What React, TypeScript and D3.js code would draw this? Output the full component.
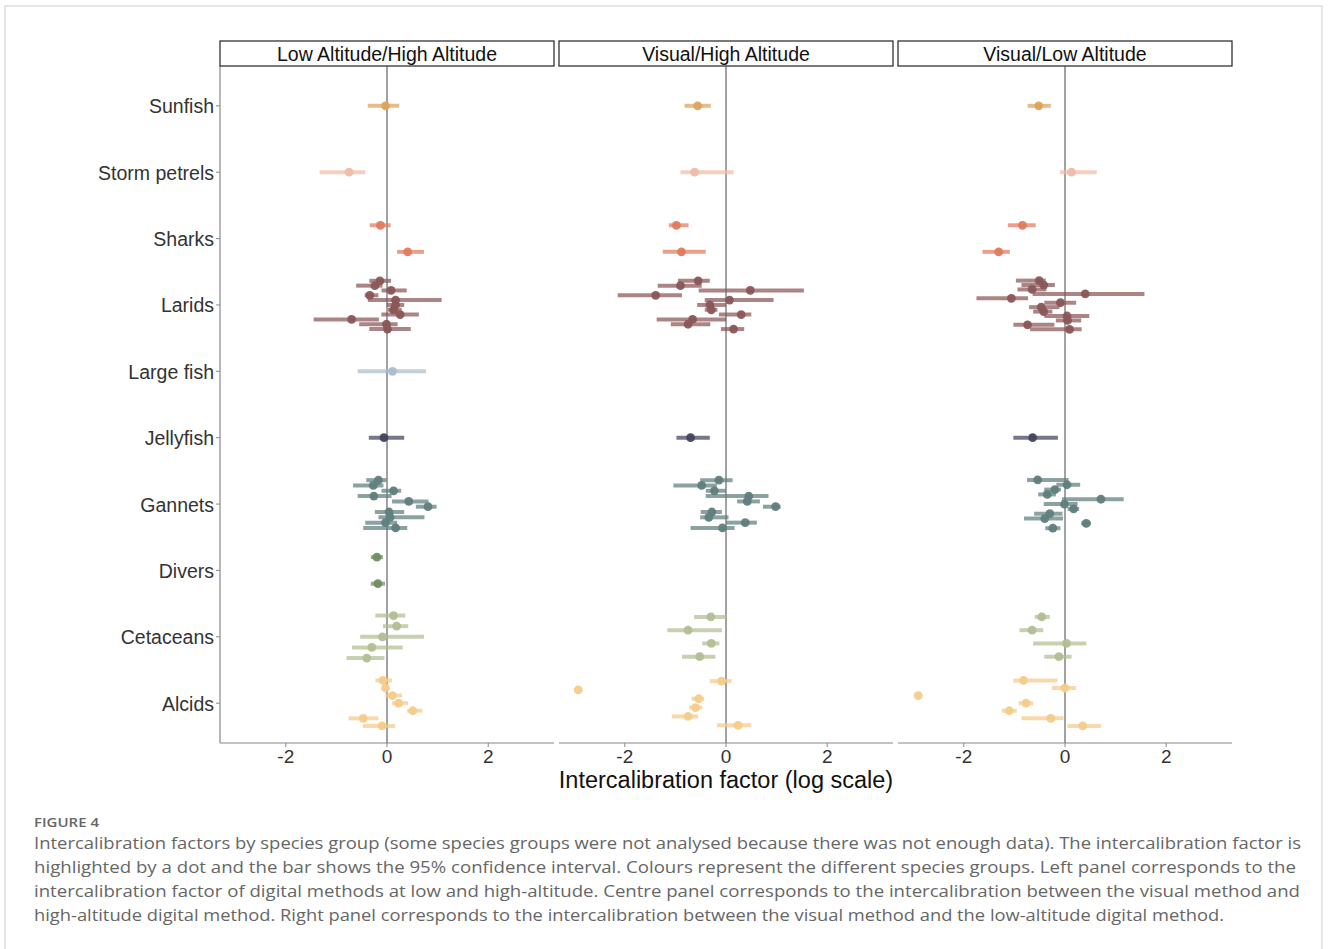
import * as d3 from 'd3';

// species groups, top to bottom
const groups = [
  'Sunfish',
  'Storm petrels',
  'Sharks',
  'Larids',
  'Large fish',
  'Jellyfish',
  'Gannets',
  'Divers',
  'Cetaceans',
  'Alcids',
];

const groupColors = [
  '#dca45a',
  '#eebca6',
  '#e27a5e',
  '#8a5658',
  '#a9bccf',
  '#42435e',
  '#607e7d',
  '#6f8d62',
  '#b3be94',
  '#f5cb8a',
];

const panelTitles = ['Low Altitude/High Altitude', 'Visual/High Altitude', 'Visual/Low Altitude'];

const xTicks = [-2, 0, 2];

// [estimate, lower 95%, upper 95%] per species, top to bottom within group
const lowHigh: Record<string, number[][]> = {
  Sunfish: [[-0.03, -0.38, 0.24]],
  'Storm petrels': [[-0.75, -1.33, -0.43]],
  Sharks: [[-0.13, -0.34, 0.07], [0.41, 0.2, 0.73]],
  Larids: [
    [-0.14, -0.35, 0.08], [-0.24, -0.61, -0.09], [0.08, -0.11, 0.39], [-0.34, -0.44, -0.17],
    [0.17, -0.38, 1.08], [0.17, -0.01, 0.34], [0.13, 0.02, 0.29], [0.26, -0.11, 0.63],
    [-0.7, -1.45, -0.16], [-0.01, -0.55, 0.21], [0.01, -0.35, 0.47],
  ],
  'Large fish': [[0.11, -0.58, 0.77]],
  Jellyfish: [[-0.06, -0.36, 0.34]],
  Gannets: [
    [-0.17, -0.41, -0.01], [-0.27, -0.67, -0.07], [0.13, -0.11, 0.28], [-0.26, -0.58, 0.09],
    [0.43, 0.1, 0.82], [0.81, 0.57, 0.98], [0.04, -0.24, 0.34], [0.06, -0.17, 0.74],
    [-0.03, -0.43, 0.2], [0.17, -0.47, 0.4],
  ],
  Divers: [[-0.2, -0.32, -0.08], [-0.18, -0.32, -0.04]],
  Cetaceans: [
    [0.13, -0.23, 0.36], [0.19, -0.08, 0.42], [-0.09, -0.53, 0.73], [-0.3, -0.69, 0.31],
    [-0.4, -0.8, -0.05],
  ],
  Alcids: [
    [-0.08, -0.23, 0.1], [-0.03, -0.08, 0.02], [0.11, -0.03, 0.3], [0.23, 0.1, 0.42],
    [0.51, 0.4, 0.7], [-0.47, -0.76, -0.17], [-0.1, -0.48, 0.16],
  ],
};

const visualHigh: Record<string, number[][]> = {
  Sunfish: [[-0.56, -0.82, -0.3]],
  'Storm petrels': [[-0.62, -0.9, 0.15]],
  Sharks: [[-0.98, -1.13, -0.74], [-0.88, -1.25, -0.4]],
  Larids: [
    [-0.55, -0.95, -0.32], [-0.9, -1.35, -0.48], [0.48, -0.54, 1.54], [-1.39, -2.14, -0.87],
    [0.07, -0.42, 0.94], [-0.32, -0.57, 0.0], [-0.29, -0.42, -0.17], [0.3, -0.14, 0.5],
    [-0.66, -1.37, 0.0], [-0.75, -1.09, -0.31], [0.15, -0.1, 0.36],
  ],
  Jellyfish: [[-0.7, -0.98, -0.32]],
  Gannets: [
    [-0.14, -0.51, 0.13], [-0.48, -1.04, -0.18], [-0.23, -0.4, 0.0], [0.45, -0.4, 0.84],
    [0.42, 0.22, 0.67], [0.98, 0.73, 1.08], [-0.28, -0.5, -0.08], [-0.34, -0.51, 0.05],
    [0.38, 0.0, 0.61], [-0.07, -0.7, 0.17],
  ],
  Cetaceans: [
    [-0.3, -0.63, 0.01], [-0.75, -1.16, -0.08], [-0.29, -0.47, -0.13], [-0.52, -0.87, -0.21],
  ],
  Alcids: [
    [-0.09, -0.32, 0.11], [-2.92, -2.92, -2.92], [-0.54, -0.68, -0.43], [-0.6, -0.73, -0.47],
    [-0.75, -1.07, -0.55], [0.24, -0.18, 0.5],
  ],
};

const visualLow: Record<string, number[][]> = {
  Sunfish: [[-0.52, -0.74, -0.28]],
  'Storm petrels': [[0.13, -0.1, 0.63]],
  Sharks: [[-0.84, -1.13, -0.58], [-1.31, -1.63, -1.09]],
  Larids: [
    [-0.51, -0.97, -0.38], [-0.42, -0.86, -0.2], [-0.65, -0.94, -0.37], [0.4, -0.64, 1.57],
    [-1.06, -1.75, -0.73], [-0.09, -0.41, 0.22], [-0.47, -0.71, -0.11], [-0.42, -0.63, -0.25],
    [0.04, -0.41, 0.48], [0.05, -0.18, 0.32], [-0.74, -1.02, -0.21], [0.09, -0.69, 0.33],
  ],
  Jellyfish: [[-0.64, -1.02, -0.14]],
  Gannets: [
    [-0.54, -0.75, 0.07], [0.04, -0.17, 0.3], [-0.2, -0.41, -0.08], [-0.35, -0.53, -0.18],
    [0.71, -0.06, 1.16], [-0.01, -0.42, 0.25], [0.17, 0.05, 0.28], [-0.3, -0.61, -0.05],
    [-0.4, -0.81, -0.04], [0.42, 0.32, 0.51], [-0.24, -0.39, -0.09],
  ],
  Cetaceans: [
    [-0.46, -0.6, -0.3], [-0.65, -0.9, -0.43], [0.03, -0.63, 0.42], [-0.12, -0.41, 0.13],
  ],
  Alcids: [
    [-0.82, -1.02, -0.15], [0.0, -0.26, 0.22], [-2.9, -2.9, -2.9], [-0.77, -0.92, -0.63],
    [-1.1, -1.25, -0.95], [-0.28, -0.86, -0.03], [0.35, 0.05, 0.71],
  ],
};

const panelData = [lowHigh, visualHigh, visualLow];

const captionLines = [
  'Intercalibration factors by species group (some species groups were not analysed because there was not enough data). The intercalibration factor is',
  'highlighted by a dot and the bar shows the 95% confidence interval. Colours represent the different species groups. Left panel corresponds to the',
  'intercalibration factor of digital methods at low and high-altitude. Centre panel corresponds to the intercalibration between the visual method and',
  'high-altitude digital method. Right panel corresponds to the intercalibration between the visual method and the low-altitude digital method.',
];
const captionWidths = [1267, 1262, 1266, 1190];

const W = 1328;
const H = 949;
const font = '"Liberation Sans", Arial, sans-serif';

function Panel({ index, left, right, top, bottom, y }: any) {
  const x = d3.scaleLinear().domain([-3.3, 3.3]).range([left, right]);
  const data = panelData[index];
  const dodge = y.step() * 0.8;

  return (
    <g>
      {/* strip */}
      <rect x={left} y={41} width={right - left} height={top - 41} fill="white" stroke="#222" strokeWidth={1.2} />
      <text x={(left + right) / 2} y={61} textAnchor="middle" fontFamily={font} fontSize={19.5} fill="#111">
        {panelTitles[index]}
      </text>

      {/* zero line */}
      <line x1={x(0)} x2={x(0)} y1={top} y2={bottom} stroke="#444" strokeWidth={1} />

      {/* bottom axis */}
      <line x1={left} x2={right} y1={bottom} y2={bottom} stroke="#888" strokeWidth={1.2} />
      {xTicks.map((t) => (
        <g key={t}>
          <line x1={x(t)} x2={x(t)} y1={bottom} y2={bottom + 4} stroke="#888" />
          <text x={x(t)} y={bottom + 20} textAnchor="middle" fontFamily={font} fontSize={19} fill="#333">
            {t < 0 ? `-${Math.abs(t)}` : t}
          </text>
        </g>
      ))}

      {groups.map((g, gi) => {
        const rows = data[g];
        if (!rows) return null;
        const n = rows.length;
        const color = groupColors[gi];
        return (
          <g key={g}>
            {rows.map((r, i) => {
              const cy = (y(g) as number) + (i - (n - 1) / 2) * (dodge / n);
              return (
                <g key={i}>
                  {r[2] > r[1] && (
                    <line
                      x1={x(r[1])}
                      x2={x(r[2])}
                      y1={cy}
                      y2={cy}
                      stroke={color}
                      strokeOpacity={0.72}
                      strokeWidth={4}
                    />
                  )}
                  <circle cx={x(r[0])} cy={cy} r={4.4} fill={color} fillOpacity={0.95} />
                </g>
              );
            })}
          </g>
        );
      })}
    </g>
  );
}

export default function App() {
  const top = 66;
  const bottom = 743;
  const y = d3.scalePoint<string>().domain(groups).range([top, bottom]).padding(0.6);
  const panelX = [
    [220, 554],
    [559, 893],
    [898, 1232],
  ];

  return (
    <div style={{ position: 'absolute', left: 0, top: 0 }}>
      <svg width={W} height={H} style={{ display: 'block', background: 'white' }}>
        <rect x={5} y={6} width={1317} height={H} fill="white" stroke="#ddd" strokeWidth={1.5} />

        {/* y axis */}
        <line x1={220} x2={220} y1={top} y2={bottom} stroke="#888" strokeWidth={1.2} />
        {groups.map((g) => (
          <g key={g}>
            <line x1={216} x2={220} y1={y(g)} y2={y(g)} stroke="#888" />
            <text x={214} y={(y(g) as number) + 7.5} textAnchor="end" fontFamily={font} fontSize={19.5} fill="#333">
              {g}
            </text>
          </g>
        ))}

        {panelX.map(([l, r], i) => (
          <Panel key={i} index={i} left={l} right={r} top={top} bottom={bottom} y={y} />
        ))}

        <text x={726} y={788} textAnchor="middle" fontFamily={font} fontSize={23.5} fill="#111">
          Intercalibration factor (log scale)
        </text>

        {/* caption */}
        <text
          x={34}
          y={827}
          fontFamily='"Open Sans", "Noto Sans", sans-serif'
          fontSize={13}
          fontWeight={600}
          fill="#666"
          textLength={65}
          lengthAdjust="spacingAndGlyphs"
        >
          FIGURE 4
        </text>
        {captionLines.map((line, i) => (
          <text
            key={i}
            x={34}
            y={849 + i * 24}
            fontFamily='"Open Sans", "Noto Sans", sans-serif'
            fontSize={16.5}
            fill="#666"
            textLength={captionWidths[i]}
            lengthAdjust="spacingAndGlyphs"
          >
            {line}
          </text>
        ))}
      </svg>
    </div>
  );
}
